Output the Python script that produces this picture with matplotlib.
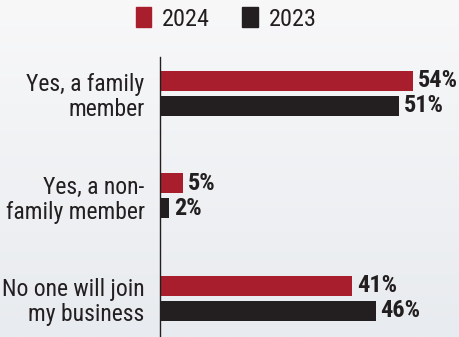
import numpy as np
import matplotlib
matplotlib.use("Agg")
import matplotlib.pyplot as plt
from matplotlib.patches import Patch
from matplotlib import font_manager

# survey answers: who will join the business
categories = ["Yes, a family\nmember", "Yes, a non-\nfamily member", "No one will join\nmy business"]
years = ["2024", "2023"]
values_2024 = [54, 5, 41]
values_2023 = [51, 2, 46]

red = "#a91e2c"
black = "#231f20"

# prefer a narrow face, else plain Liberation Sans a size smaller
installed = {f.name for f in font_manager.fontManager.ttflist}
family, scale = "Liberation Sans", 0.88
for name in ["Roboto Condensed", "Liberation Sans Narrow", "DejaVu Sans Condensed", "Open Sans Condensed"]:
    if name in installed:
        family, scale = name, 1.0
        break
plt.rcParams["font.family"] = [family, "DejaVu Sans"]

fig = plt.figure(figsize=(4.59, 3.37), dpi=100)

# soft grey backdrop, a bit lighter at the top
bg = fig.add_axes([0, 0, 1, 1], zorder=-1)
grad = np.linspace(0, 1, 256).reshape(-1, 1)
bg.imshow(grad, aspect="auto", cmap=matplotlib.colors.LinearSegmentedColormap.from_list(
    "bg", ["#f8f8f9", "#e8ebef"]), extent=[0, 1, 0, 1])
bg.axis("off")

ax = fig.add_axes([160 / 459, 0, 299 / 459, 1 - 57 / 337])
ax.patch.set_alpha(0)

pos = np.arange(len(categories))
h = 0.195
off = 0.122
ax.barh(pos - off, values_2024, height=h, color=red)
ax.barh(pos + off, values_2023, height=h, color=black)

for p, v in zip(pos, values_2024):
    ax.text(v + 1.0, p - off, f"{v}%", va="center", ha="left", fontsize=17.5 * scale,
            fontweight="bold", color=black)
for p, v in zip(pos, values_2023):
    ax.text(v + 1.0, p + off, f"{v}%", va="center", ha="left", fontsize=17.5 * scale,
            fontweight="bold", color=black)

ax.set_xlim(0, 63.7)
ax.set_ylim(2.376, -0.356)
ax.set_yticks(pos)
ax.set_yticklabels(categories, fontsize=17 * scale, color=black, linespacing=1.12)
ax.tick_params(axis="y", length=0, pad=11)
ax.set_xticks([])
for s in ["top", "right", "bottom"]:
    ax.spines[s].set_visible(False)
ax.spines["left"].set_color(black)
ax.spines["left"].set_linewidth(1)

handles = [Patch(color=red, label=years[0]), Patch(color=black, label=years[1])]
fig.legend(handles=handles, loc="center", bbox_to_anchor=(226 / 459, 1 - 19 / 337),
           ncol=2, frameon=False, fontsize=17.5 * scale, handlelength=0.65, handleheight=0.9,
           handletextpad=0.45, columnspacing=1.3, labelcolor=black)

fig.savefig("out.png", dpi=100)
